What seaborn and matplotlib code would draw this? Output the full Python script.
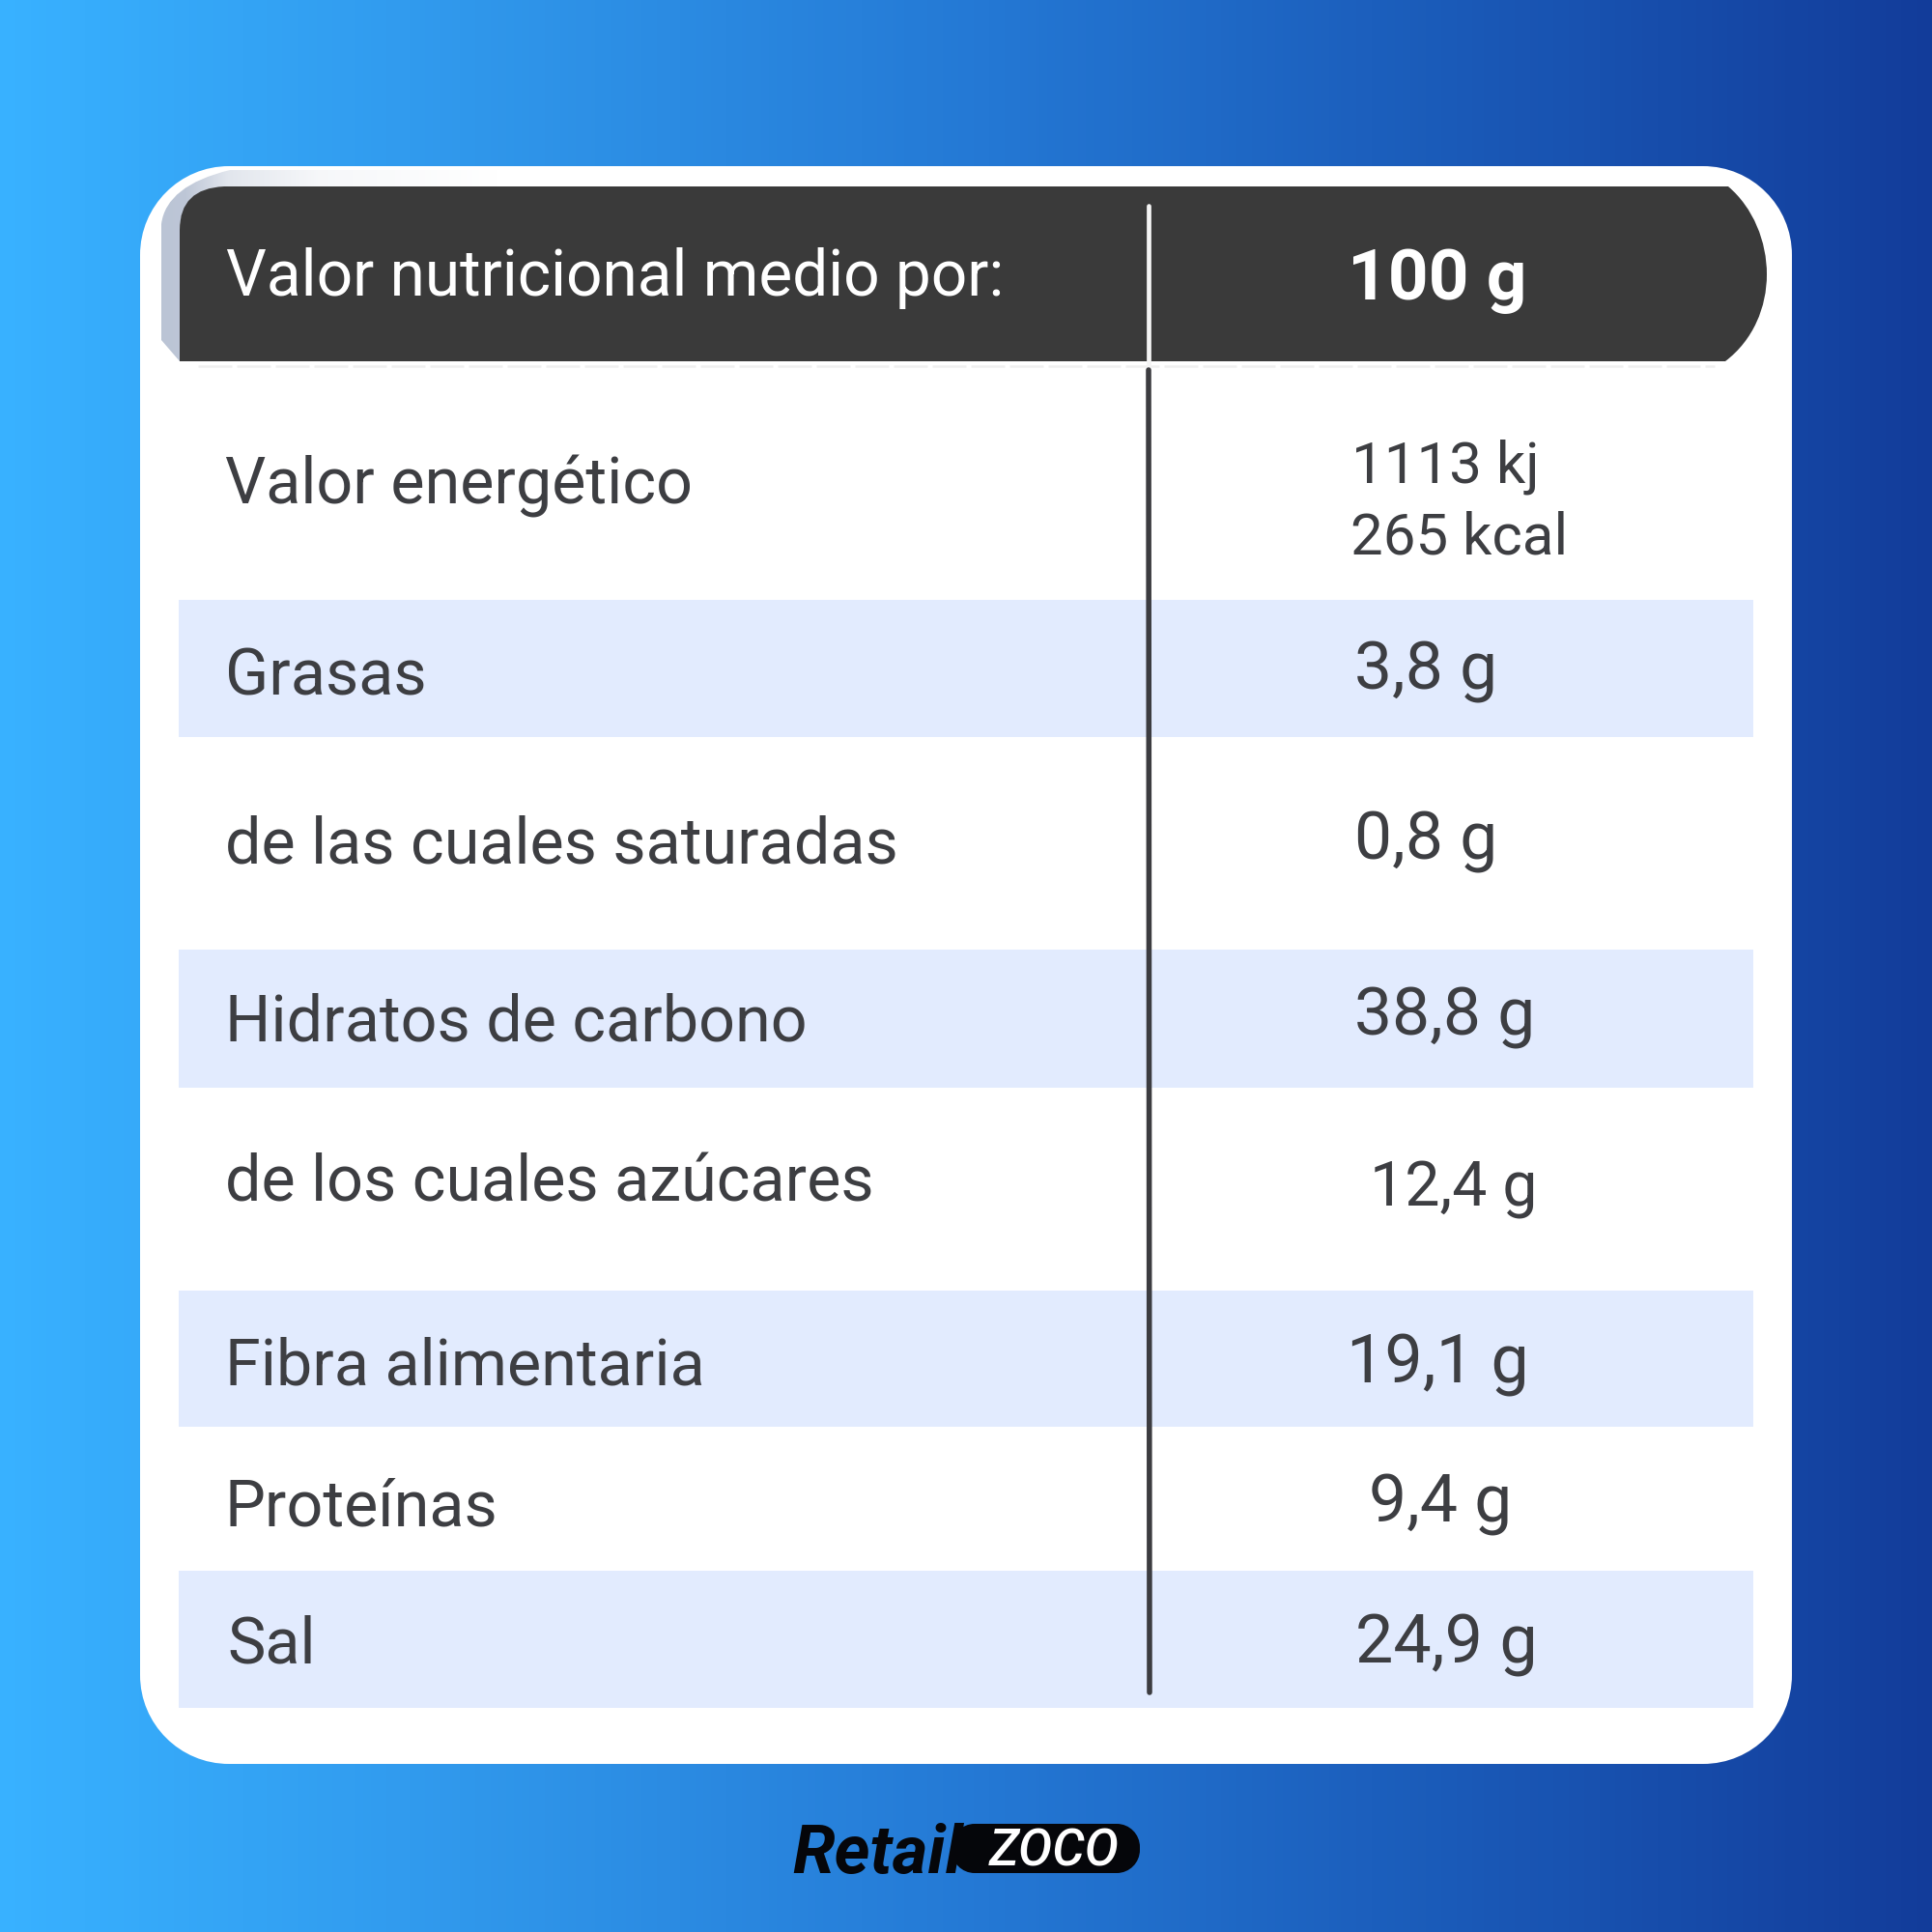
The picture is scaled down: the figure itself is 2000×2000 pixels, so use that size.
import numpy as np
import matplotlib
matplotlib.use("Agg")
import matplotlib.pyplot as plt
from matplotlib.colors import LinearSegmentedColormap, to_rgb
from matplotlib.patches import FancyBboxPatch, PathPatch
from matplotlib.path import Path
import seaborn as sns

# ---- content
header_label = "Valor nutricional medio por:"
header_value = "100 g"
row_labels = ["Valor energético", "Grasas", "de las cuales saturadas", "Hidratos de carbono",
              "de los cuales azúcares", "Fibra alimentaria", "Proteínas", "Sal"]
energy_values = ["1113 kj", "265 kcal"]
row_values = ["3,8 g", "0,8 g", "38,8 g", "12,4 g", "19,1 g", "9,4 g", "24,9 g"]

# ---- layout (pixels of the 2000 px canvas)
label_x = [233, 233, 233, 233, 233, 233, 233, 235]
label_base = [521, 720, 894, 1077, 1243, 1434, 1579, 1722]
value_x = [1402, 1402, 1402, 1418, 1394, 1417, 1403]
value_base = [714, 889, 1071, 1248, 1431, 1575, 1722]
value_size = [25, 25, 25, 23.2, 25.2, 25, 25.2]
energy_x = [1399, 1398]
energy_base = [499, 573]
band_top = [621, 983, 1336, 1626]
band_bottom = [763, 1126, 1477, 1768]

TEXT = "#3d3e42"
DARK = "#3a3a3a"
BAND = "#e2ebfe"

sns.set_theme(style="white")
plt.rcParams["font.family"] = ["Roboto", "DejaVu Sans"]

fig = plt.figure(figsize=(10, 10), dpi=200)


def rounded_path(x0, y0, x1, y1, r):
    """Rounded rectangle with true circular corners."""
    k = r * 0.4477
    v = [(x0 + r, y0), (x1 - r, y0), (x1 - k, y0), (x1, y0 + k), (x1, y0 + r),
         (x1, y1 - r), (x1, y1 - k), (x1 - k, y1), (x1 - r, y1),
         (x0 + r, y1), (x0 + k, y1), (x0, y1 - k), (x0, y1 - r),
         (x0, y0 + r), (x0, y0 + k), (x0 + k, y0), (x0 + r, y0), (x0 + r, y0)]
    c = [Path.MOVETO, Path.LINETO, Path.CURVE4, Path.CURVE4, Path.CURVE4,
         Path.LINETO, Path.CURVE4, Path.CURVE4, Path.CURVE4,
         Path.LINETO, Path.CURVE4, Path.CURVE4, Path.CURVE4,
         Path.LINETO, Path.CURVE4, Path.CURVE4, Path.CURVE4, Path.CLOSEPOLY]
    return Path(v, c)


# gradient background
bg = fig.add_axes([0, 0, 1, 1])
cmap = LinearSegmentedColormap.from_list("bg", ["#38b1ff", "#2f96ea", "#2479d5", "#1a5ab8", "#123c9a"])
sns.heatmap(np.linspace(0, 1, 500)[None, :], cmap=cmap, cbar=False, ax=bg,
            xticklabels=False, yticklabels=False, vmin=0, vmax=1, linewidths=0, rasterized=True)
bg.set_axis_off()

ax = fig.add_axes([0, 0, 1, 1])
ax.set_axis_off()
ax.patch.set_alpha(0)

# white card
ax.add_patch(PathPatch(rounded_path(145, 172, 1855, 1826, 92), fc="white", ec="none", zorder=1))

# faded grey residue left of and above the header
gx, gy = np.meshgrid(np.arange(160, 620), np.arange(170, 380))
rgba = np.zeros(gx.shape + (4,))
rgba[..., :3] = to_rgb("#b6c0d2")
rgba[..., 3] = np.interp(gx, [160, 192, 235, 330, 520], [0.95, 0.9, 0.4, 0.12, 0.0])
residue_verts = [(167, 352), (167, 232), (172, 192), (238, 176), (620, 176), (620, 193), (232, 193),
                 (186, 200), (186, 238), (186, 374), (167, 352)]
residue_codes = [Path.MOVETO, Path.LINETO, Path.CURVE3, Path.CURVE3, Path.LINETO, Path.LINETO, Path.LINETO,
                 Path.CURVE3, Path.CURVE3, Path.LINETO, Path.CLOSEPOLY]
residue_patch = PathPatch(Path(residue_verts, residue_codes), transform=ax.transData, fc="none", ec="none")
ax.add_patch(residue_patch)
im = ax.imshow(rgba, extent=(160, 620, 380, 170), aspect="auto", interpolation="bilinear", zorder=1.2)
im.set_clip_path(residue_patch)

ax.set_xlim(0, 2000)
ax.set_ylim(2000, 0)

# header bar
verts = [(186, 374), (186, 238), (186, 195), (232, 193), (1789, 193),
         (1815, 215), (1829, 250), (1829, 284), (1829, 318), (1815, 352), (1786, 374), (186, 374)]
codes = [Path.MOVETO, Path.LINETO, Path.CURVE3, Path.CURVE3, Path.LINETO,
         Path.CURVE4, Path.CURVE4, Path.CURVE4, Path.CURVE4, Path.CURVE4, Path.CURVE4, Path.CLOSEPOLY]
ax.add_patch(PathPatch(Path(verts, codes), fc=DARK, ec="none", zorder=1.5))
ax.plot([205, 1775], [379, 379], color="#f0f0f0", lw=0.9, ls=(0, (14, 2)), zorder=1.4)

# alternating bands
tops = np.array(band_top)
bots = np.array(band_bottom)
ax.barh((tops + bots) / 2, 1630, height=bots - tops, left=185, color=BAND, edgecolor="none", zorder=1.5)

# dividers
ax.plot([1189, 1189], [213, 380], color="#f4f4f4", lw=1.7, solid_capstyle="round", zorder=2)
ax.plot([1189, 1190], [383, 1752], color="#3c3c40", lw=2.0, solid_capstyle="round", zorder=2)

# texts
ax.text(234, 306, header_label, color="white", fontsize=23.7, va="baseline", ha="left")
ax.text(1395, 310, header_value, color="white", fontsize=26.3, fontweight="bold", va="baseline", ha="left")
for x, y, t in zip(label_x, label_base, row_labels):
    ax.text(x, y, t, color=TEXT, fontsize=23.9, va="baseline", ha="left")
for x, y, t, s in zip(value_x, value_base, row_values, value_size):
    ax.text(x, y, t, color=TEXT, fontsize=s, va="baseline", ha="left")
for x, y, t in zip(energy_x, energy_base, energy_values):
    ax.text(x, y, t, color=TEXT, fontsize=21.6, va="baseline", ha="left")

# logo
ax.add_patch(PathPatch(rounded_path(985, 1888, 1180, 1939, 24), fc="#05060a", ec="none", zorder=2))
ax.text(820, 1939, "Retail", color="#05060a", fontsize=25.4, fontweight="bold", fontstyle="italic",
        va="baseline", ha="left", zorder=3)
ax.text(1024, 1932, "ZOCO", color="white", fontsize=19, fontstyle="italic", fontweight="medium",
        va="baseline", ha="left", zorder=3)

fig.savefig("out.png", dpi=200)
